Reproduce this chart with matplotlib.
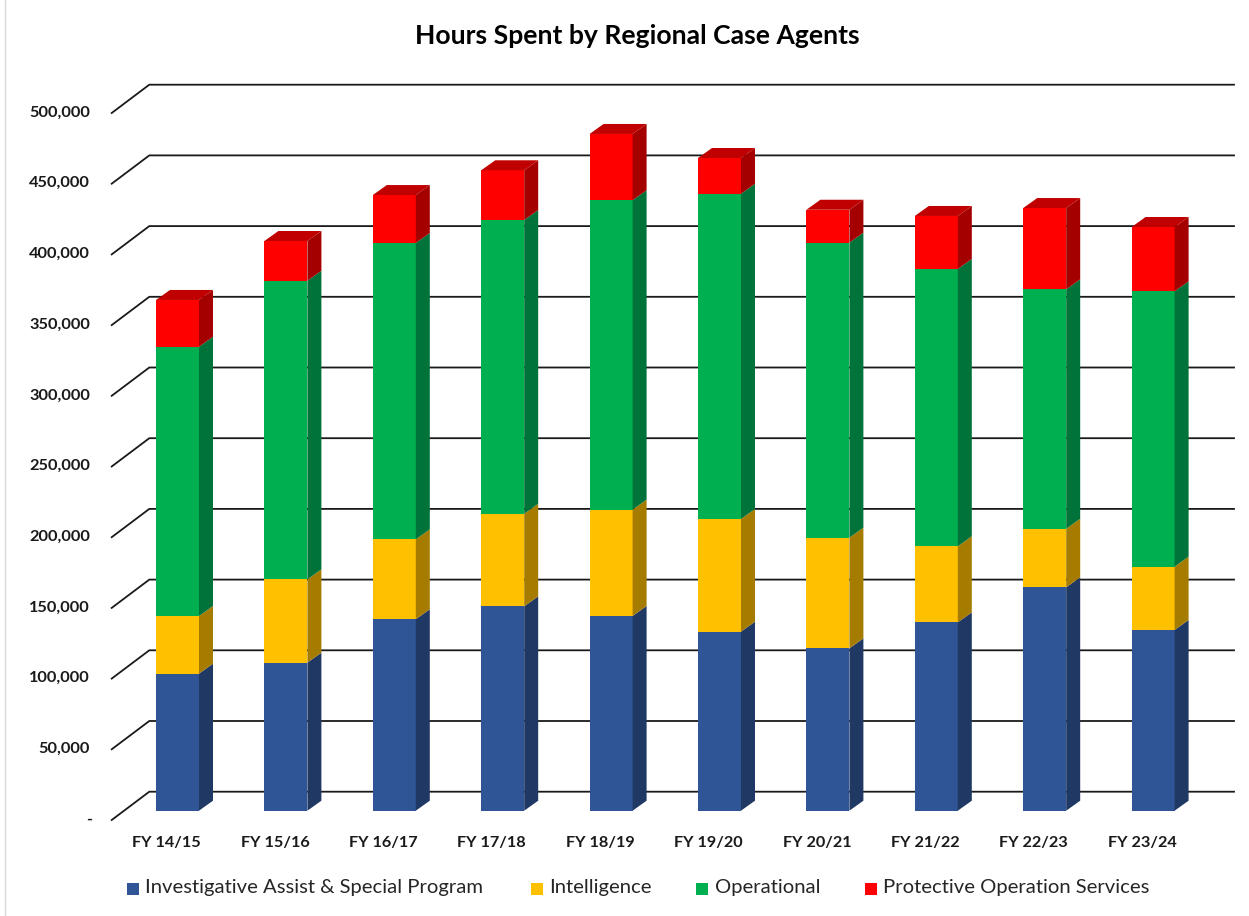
import matplotlib
matplotlib.use('Agg')
import matplotlib.pyplot as plt
from matplotlib.patches import Polygon, Rectangle

plt.rcParams['font.family'] = ['Lato', 'DejaVu Sans']

years = ['FY 14/15', 'FY 15/16', 'FY 16/17', 'FY 17/18', 'FY 18/19',
         'FY 19/20', 'FY 20/21', 'FY 21/22', 'FY 22/23', 'FY 23/24']
investigative = [96900, 104700, 135400, 144500, 137700, 126600, 114800, 133200, 158000, 127800]
intelligence = [40800, 58900, 56500, 65500, 75200, 79700, 78300, 53800, 41400, 44800]
operational = [190400, 211200, 209600, 207700, 218800, 230000, 208600, 196100, 169300, 194700]
protective = [33100, 28100, 33900, 35200, 46900, 25300, 23300, 37500, 57500, 45500]
series_names = ['Investigative Assist & Special Program', 'Intelligence',
                'Operational', 'Protective Operation Services']
y_ticks = list(range(0, 500001, 50000))

# front / side / top colours per series
colors = [('#2F5597', '#203864', '#2A4C88'),
          ('#FFC000', '#A67C00', '#D9A300'),
          ('#00B050', '#00733A', '#009944'),
          ('#FF0000', '#A50000', '#C00000')]

# layout in pixels
W, H = 1249, 916
px_cat = 108.4            # pixels between bar centers
px_val = 70.7 / 50000     # pixels per hour
x0_px = 177.5             # centre of first bar front (from left)
y0_px = 810.7             # zero of bar front plane (from top)

def dx(p):
    return p / px_cat

def dy(p):
    return p / px_val

fig = plt.figure(figsize=(W / 100, H / 100), dpi=100)
ax = fig.add_axes([0, 0, 1, 1])
ax.set_xlim(-x0_px / px_cat, (W - x0_px) / px_cat)
ax.set_ylim(-(H - y0_px) / px_val, y0_px / px_val)
ax.axis('off')

# walls / gridlines
front_x = dx(111.7 - x0_px)
back_x = dx(149.3 - x0_px)
right_x = dx(1234 - x0_px)
for v in y_ticks:
    yf = v - dy(9.3)
    yb = v + dy(19)
    ax.plot([front_x, back_x, right_x], [yf, yb, yb], color='#1a1a1a', lw=1.3,
            solid_joinstyle='miter', zorder=1)
    label = f'{v:,}' if v else '-'
    lx = dx(90 - x0_px) if v else dx(92 - x0_px)
    ax.text(lx, yf + dy(0.5), label, ha='right', va='center', fontsize=11.8,
            fontweight='bold', color='#1a1a1a')

# bars with fake depth
half = dx(21.5)
ddx, ddy = dx(14), dy(10)
stack = [investigative, intelligence, operational, protective]
for i in range(len(years)):
    base = 0
    xl, xr = i - half, i + half
    for s, vals in enumerate(stack):
        top = base + vals[i]
        front, side, topc = colors[s]
        ax.add_patch(Rectangle((xl, base), 2 * half, vals[i], facecolor=front,
                               edgecolor='none', zorder=3))
        ax.add_patch(Polygon([(xr, base), (xr + ddx, base + ddy),
                              (xr + ddx, top + ddy), (xr, top)],
                             closed=True, facecolor=side, edgecolor='none', zorder=3))
        if s == len(stack) - 1:
            ax.add_patch(Polygon([(xl, top), (xr, top), (xr + ddx, top + ddy),
                                  (xl + ddx, top + ddy)],
                                 closed=True, facecolor=topc, edgecolor='none', zorder=3))
        base = top
    ax.text(i + dx(-11), -dy(32.3), years[i], ha='center', va='center',
            fontsize=11.7, fontweight='bold', color='#1a1a1a')

fig.text(637 / W, 1 - 36 / H, 'Hours Spent by Regional Case Agents', ha='center',
         va='center', fontsize=19.1, fontweight='bold', color='black')

# legend
leg_x = [145, 549, 714.5, 883]
for s, name in enumerate(series_names):
    fig.add_artist(Rectangle(((leg_x[s] - 18.3) / W, 1 - 895 / H), 12 / W, 12 / H,
                             transform=fig.transFigure, facecolor=colors[s][0],
                             edgecolor='none'))
    fig.text(leg_x[s] / W, 1 - 888 / H, name, ha='left', va='center',
             fontsize=14.6, color='#262626')

fig.add_artist(plt.Line2D([5 / W, 5 / W], [0, 1], transform=fig.transFigure,
                          color='#d9d9d9', lw=1))

fig.savefig('out.png', dpi=100)
